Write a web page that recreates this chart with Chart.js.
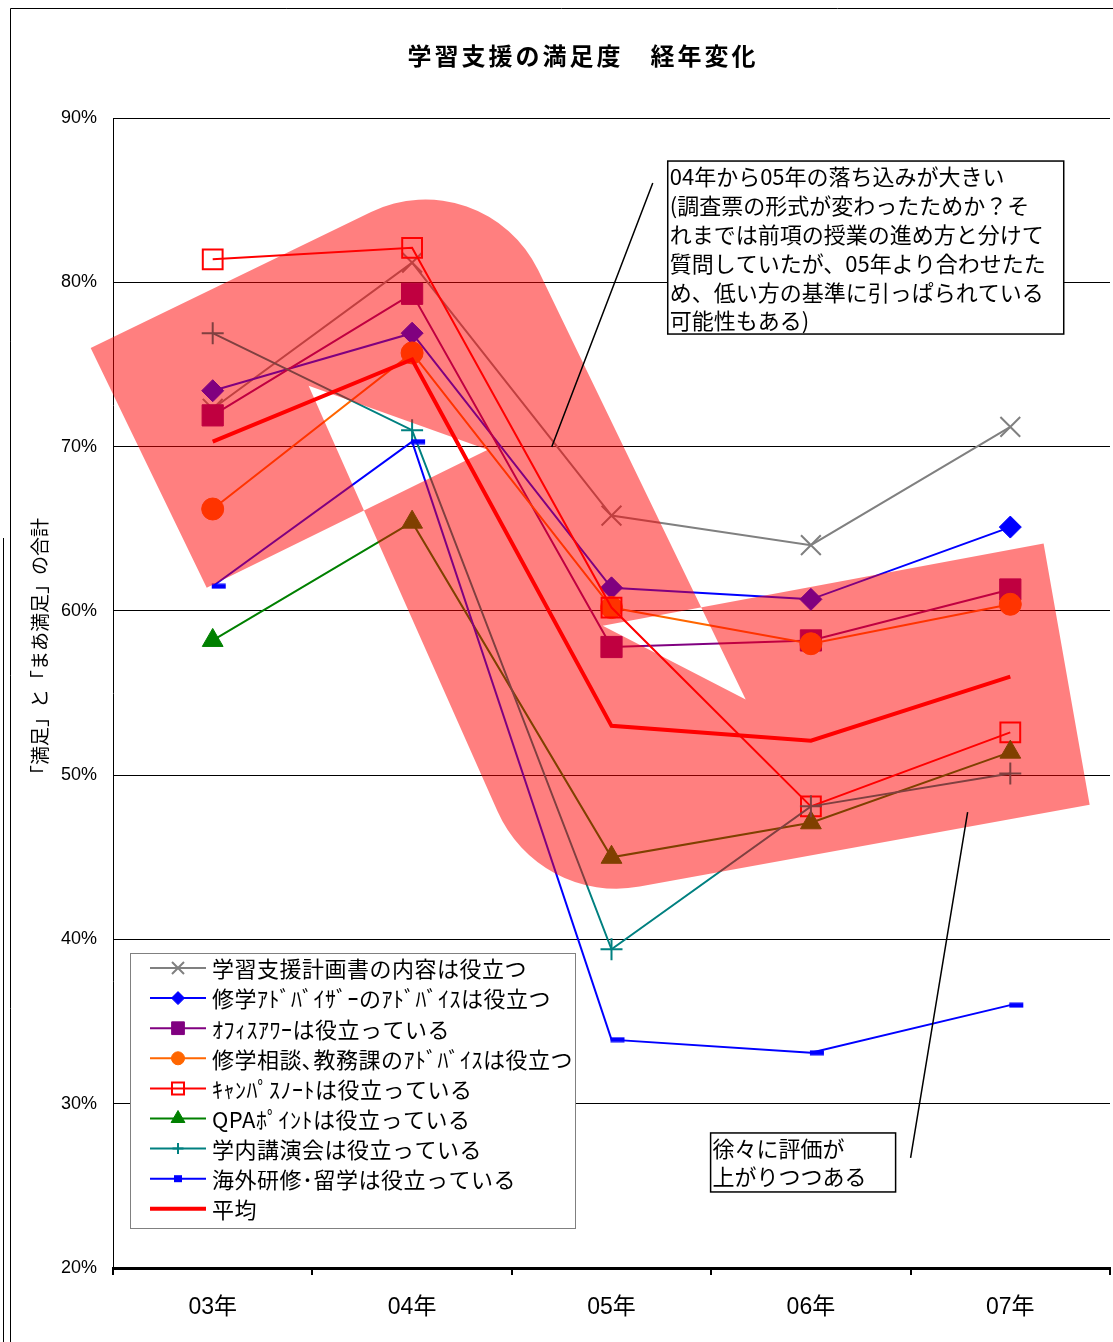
<!DOCTYPE html>
<html lang="ja">
<head>
<meta charset="utf-8">
<title>学習支援の満足度 経年変化</title>
<script src="https://cdn.jsdelivr.net/npm/chart.js@4.4.1/dist/chart.umd.min.js"></script>
<style>
  html, body { margin: 0; padding: 0; background: #fff; }
  #wrap { width: 1113px; height: 1342px; }
</style>
</head>
<body>
<div id="wrap"><canvas id="chart" width="1113" height="1342"></canvas></div>
<script>
// survey years and tick values
const years = ['03年', '04年', '05年', '06年', '07年'];
const percentTicks = [20, 30, 40, 50, 60, 70, 80, 90];

// "satisfied" + "fairly satisfied" share per item (%)
const planBook    = [72.3, 81.2, 65.8, 64.0, 71.2];
const advisor     = [73.4, 76.9, 61.4, 60.7, 65.1];
const officeHour  = [71.9, 79.3, 57.8, 58.2, 61.3];
const counseling  = [66.2, 75.7, 60.2, 58.0, 60.4];
const campusNote  = [81.4, 82.1, 60.2, 48.1, 52.6];
const qpaPoint    = [58.2, 65.4, 45.0, 47.1, 51.4];
const lecture     = [76.9, 71.0, 39.4, 48.1, 50.1];
const studyAbroad = [61.5, 70.3, 33.9, 33.1, 36.0];
const average     = [70.3, 75.3, 53.0, 52.1, 56.0];

// highlight band outline as [category index, percent]
const bandOutline = [
  [-0.612, 76.0], [1.359, 87.6], [2.673, 54.6], [1.956, 59.1], [4.167, 64.1],
  [4.398, 48.2], [1.637, 42.1], [0.481, 73.7], [1.379, 69.8], [-0.030, 61.4]
];
const bandCornerRadius = { 1: 125, 6: 130 };

const noteDrop = [
  '04年から05年の落ち込みが大きい',
  '(調査票の形式が変わったためか？そ',
  'れまでは前項の授業の進め方と分けて',
  '質問していたが、05年より合わせたた',
  'め、低い方の基準に引っぱられている',
  '可能性もある)'
];
const noteRise = ['徐々に評価が', '上がりつつある'];

const JP = '"Noto Sans CJK JP", sans-serif';

// small offset dash used as the study-abroad marker
function dashMarker(color) {
  const c = document.createElement('canvas');
  c.width = 28;
  c.height = 6;
  const g = c.getContext('2d');
  g.fillStyle = color;
  g.fillRect(13, 0.5, 14, 5);
  return c;
}

function series(label, data, color, style, radius, legendRadius, extra) {
  return Object.assign({
    label: label,
    data: data,
    borderColor: color,
    borderWidth: 2,
    pointStyle: style,
    pointRadius: radius,
    pointBackgroundColor: color,
    pointBorderColor: color,
    pointBorderWidth: 1,
    legendRadius: legendRadius,
    tension: 0
  }, extra || {});
}

const datasets = [
  series('学習支援計画書の内容は役立つ', planBook, '#808080', 'crossRot', 14, 8.5, { pointBorderWidth: 2 }),
  series('修学ｱﾄﾞﾊﾞｲｻﾞｰのｱﾄﾞﾊﾞｲｽは役立つ', advisor, '#0000FF', 'rectRot', 11, 6.5),
  series('ｵﾌｨｽｱﾜｰは役立っている', officeHour, '#800080', 'rect', 15, 9),
  series('修学相談､教務課のｱﾄﾞﾊﾞｲｽは役立つ', counseling, '#FF6600', 'circle', 11, 6.5),
  series('ｷｬﾝﾊﾟｽﾉｰﾄは役立っている', campusNote, '#FF0000', 'rect', 14, 8.5,
         { pointBackgroundColor: 'rgba(0,0,0,0)', pointBorderWidth: 2 }),
  series('QPAﾎﾟｲﾝﾄは役立っている', qpaPoint, '#008000', 'triangle', 12, 8),
  series('学内講演会は役立っている', lecture, '#008080', 'cross', 11, 5.5, { pointBorderWidth: 2 }),
  series('海外研修･留学は役立っている', studyAbroad, '#0000FF', dashMarker('#0000FF'), 7, 4),
  series('平均', average, '#FF0000', false, 0, 0, { borderWidth: 4 })
];
// later series are painted over earlier ones
datasets.forEach((d, i) => { d.order = datasets.length - i; });

const highlightBand = {
  id: 'highlightBand',
  afterDatasetsDraw(chart) {
    const { ctx, scales: { x, y } } = chart;
    const pt = p => [x.getPixelForValue(p[0]), y.getPixelForValue(p[1])];
    ctx.save();
    ctx.beginPath();
    bandOutline.forEach((p, i) => {
      const [px, py] = pt(p);
      if (i === 0) {
        ctx.moveTo(px, py);
      } else if (bandCornerRadius[i]) {
        const next = pt(bandOutline[(i + 1) % bandOutline.length]);
        ctx.arcTo(px, py, next[0], next[1], bandCornerRadius[i]);
      } else {
        ctx.lineTo(px, py);
      }
    });
    ctx.closePath();
    ctx.fillStyle = 'rgba(255, 0, 0, 0.5)';
    ctx.fill('evenodd');
    ctx.restore();
  }
};

function noteBox(ctx, left, top, w, h, lines, step) {
  ctx.fillStyle = '#fff';
  ctx.fillRect(left, top, w, h);
  ctx.strokeStyle = '#000';
  ctx.lineWidth = 1.5;
  ctx.strokeRect(left, top, w, h);
  ctx.fillStyle = '#000';
  ctx.font = '22px ' + JP;
  ctx.textAlign = 'left';
  ctx.textBaseline = 'middle';
  lines.forEach((t, i) => ctx.fillText(t, left + 2, top + 16 + i * step));
}

const decorations = {
  id: 'decorations',
  beforeDraw(chart) {
    const { ctx } = chart;
    ctx.save();
    ctx.fillStyle = '#fff';
    ctx.fillRect(0, 0, chart.width, chart.height);
    ctx.strokeStyle = '#000';
    ctx.lineWidth = 1;
    ctx.beginPath();
    ctx.moveTo(10.5, 1342);
    ctx.lineTo(10.5, 8.5);
    ctx.lineTo(1113, 8.5);
    ctx.moveTo(3.5, 538);
    ctx.lineTo(3.5, 1342);
    ctx.stroke();
    ctx.restore();
  },
  afterDraw(chart) {
    const { ctx, scales: { x, y } } = chart;
    ctx.save();

    // title
    ctx.fillStyle = '#000';
    ctx.font = 'bold 24px ' + JP;
    ctx.letterSpacing = '3px';
    ctx.textAlign = 'center';
    ctx.textBaseline = 'middle';
    ctx.fillText('学習支援の満足度　経年変化', 583, 56);
    ctx.letterSpacing = '0px';

    // value axis caption
    ctx.save();
    ctx.translate(40, 651);
    ctx.rotate(-Math.PI / 2);
    ctx.font = '19px ' + JP;
    ctx.fillText('「満足」と「まあ満足」の合計', 0, 0);
    ctx.restore();

    // callout pointers
    ctx.strokeStyle = '#000';
    ctx.lineWidth = 1.5;
    ctx.beginPath();
    ctx.moveTo(x.getPixelForValue(2.207), y.getPixelForValue(86.04));
    ctx.lineTo(x.getPixelForValue(1.700), y.getPixelForValue(69.97));
    ctx.moveTo(x.getPixelForValue(3.786), y.getPixelForValue(47.75));
    ctx.lineTo(x.getPixelForValue(3.500), y.getPixelForValue(26.70));
    ctx.stroke();

    noteBox(ctx, x.getPixelForValue(2.282), y.getPixelForValue(87.38), 396, 173, noteDrop, 28.8);
    noteBox(ctx, x.getPixelForValue(2.497), y.getPixelForValue(28.22), 185, 59, noteRise, 28);

    // legend
    const lx = 130, ly = 953, lw = 445, lh = 275;
    ctx.fillStyle = '#fff';
    ctx.fillRect(lx, ly, lw, lh);
    ctx.strokeStyle = '#808080';
    ctx.lineWidth = 1;
    ctx.strokeRect(lx + 0.5, ly + 0.5, lw, lh);
    chart.data.datasets.forEach((d, i) => {
      const cy = ly + 15 + i * 30.1;
      ctx.strokeStyle = d.borderColor;
      ctx.lineWidth = d.borderWidth;
      ctx.beginPath();
      ctx.moveTo(150, cy);
      ctx.lineTo(206, cy);
      ctx.stroke();
      if (d.pointStyle instanceof HTMLCanvasElement) {
        ctx.fillStyle = d.pointBorderColor;
        ctx.fillRect(174, cy - 3.5, 8, 7);
      } else if (d.pointStyle) {
        ctx.fillStyle = d.pointBackgroundColor;
        ctx.strokeStyle = d.pointBorderColor;
        ctx.lineWidth = d.pointBorderWidth;
        Chart.helpers.drawPoint(ctx, {
          pointStyle: d.pointStyle,
          radius: d.legendRadius,
          rotation: 0,
          borderWidth: d.pointBorderWidth
        }, 178, cy);
      }
      ctx.fillStyle = '#000';
      ctx.font = '22px ' + JP;
      ctx.letterSpacing = '0.5px';
      ctx.textAlign = 'left';
      ctx.textBaseline = 'middle';
      ctx.fillText(d.label, 212, cy + 1);
      ctx.letterSpacing = '0px';
    });

    ctx.restore();
  }
};

new Chart(document.getElementById('chart'), {
  type: 'line',
  data: { labels: years, datasets: datasets },
  options: {
    responsive: false,
    animation: false,
    devicePixelRatio: 1,
    layout: { autoPadding: false, padding: { top: 118, right: 3, bottom: 0, left: 0 } },
    plugins: {
      legend: { display: false },
      title: { display: false },
      tooltip: { enabled: false }
    },
    scales: {
      x: {
        offset: true,
        grid: { offset: true, drawOnChartArea: false, drawTicks: true, tickLength: 7, color: '#000', lineWidth: 2 },
        border: { display: true, color: '#000', width: 3 },
        ticks: { color: '#000', font: { size: 23, family: '"Liberation Sans", ' + JP }, padding: 19, maxRotation: 0 },
        afterFit(scale) { scale.height = 74; }
      },
      y: {
        min: 20,
        max: 90,
        afterBuildTicks(scale) { scale.ticks = percentTicks.map(v => ({ value: v })); },
        ticks: {
          color: '#000',
          font: { size: 18, family: '"Liberation Sans", Arial, sans-serif' },
          padding: 16,
          callback: v => v + '%'
        },
        grid: { color: '#000', lineWidth: 1, drawTicks: false },
        border: { color: '#000', width: 1 },
        afterFit(scale) { scale.width = 113; }
      }
    }
  },
  plugins: [highlightBand, decorations]
});
</script>
</body>
</html>
